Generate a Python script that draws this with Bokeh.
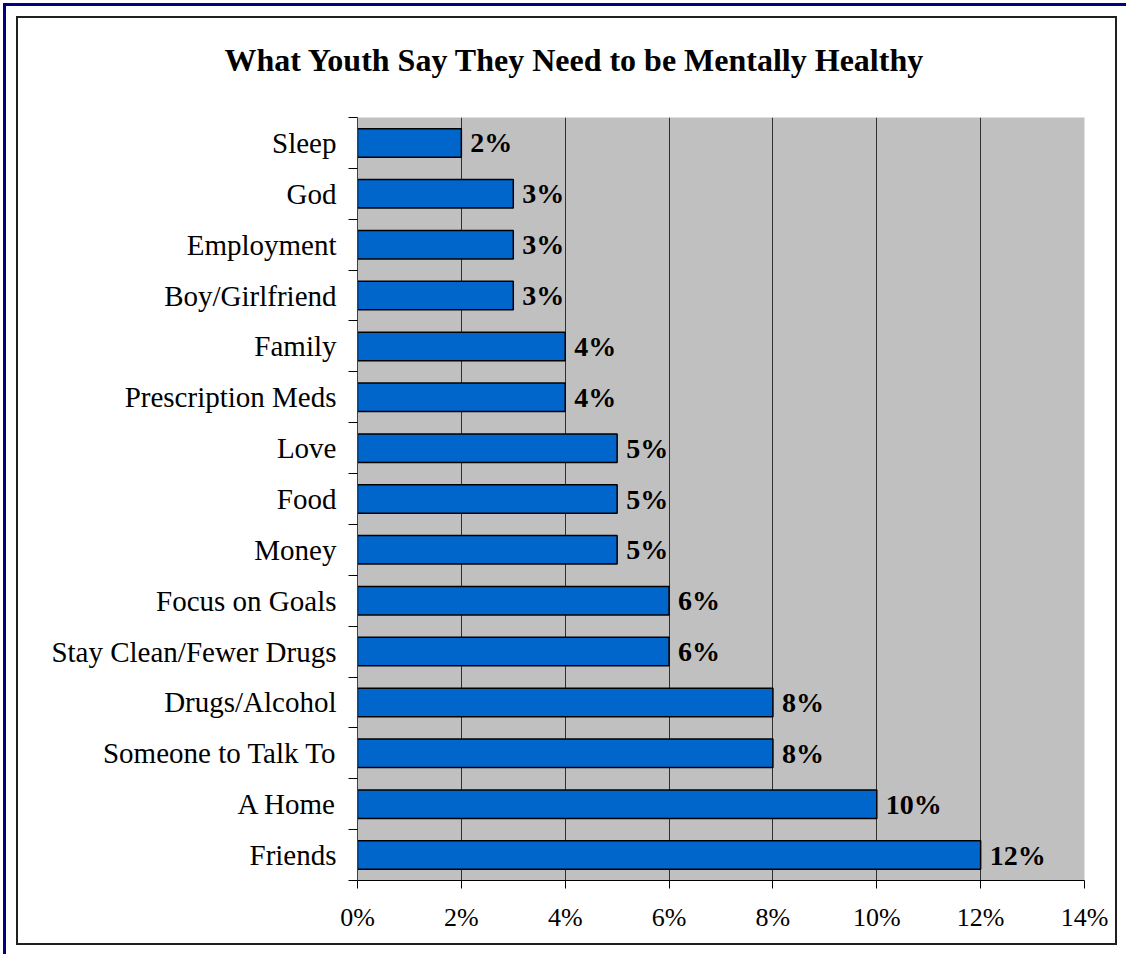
from bokeh.plotting import figure
from bokeh.models import Range1d, FixedTicker, ColumnDataSource, LinearAxis
from bokeh.embed import file_html
from bokeh.resources import INLINE
from bokeh.core.properties import value

# ---- data (bottom to top) ----
categories = ["Friends", "A Home", "Someone to Talk To", "Drugs/Alcohol",
              "Stay Clean/Fewer Drugs", "Focus on Goals", "Money", "Food", "Love",
              "Prescription Meds", "Family", "Boy/Girlfriend", "Employment", "God", "Sleep"]
values = [12, 10, 8, 8, 6, 6, 5, 5, 5, 4, 4, 3, 3, 3, 2]
x_ticks = [0, 2, 4, 6, 8, 10, 12, 14]
x_tick_labels = ["0%", "2%", "4%", "6%", "8%", "10%", "12%", "14%"]
title_text = "What Youth Say They Need to be Mentally Healthy"

SERIF = "Liberation Serif"
W, H = 1101, 929
L, R, T, B = 339, 35, 99, 67
n = len(categories)
XMAX = 14

p = figure(width=W, height=H, x_range=Range1d(0, XMAX), y_range=Range1d(-0.5, n - 0.5),
           output_backend="svg", toolbar_location=None,
           min_border_left=L, min_border_right=R, min_border_top=T, min_border_bottom=B,
           background_fill_color="#C0C0C0", border_fill_color="white",
           outline_line_color=None)
p.styles = {"margin-left": "16px", "margin-top": "16px",
            "border": "2px solid #202020",
            "outline": "3px solid #000080", "outline-offset": "10px"}

ys = list(range(n))
src = ColumnDataSource(dict(y=ys, v=values, lab=[f"{v}%" for v in values]))

p.hbar(y="y", left=0, right="v", height=0.56, source=src,
       fill_color="#0066CC", line_color="black", line_width=1.5)
p.text(x="v", y="y", text="lab", source=src, x_offset=9,
       text_align="left", text_baseline="middle",
       text_font=value(SERIF), text_font_style="bold", text_font_size="28px",
       text_color="black")

# bottom x axis
xa = p.below[0]
xa.ticker = FixedTicker(ticks=x_ticks)
xa.major_label_overrides = {t: s for t, s in zip(x_ticks, x_tick_labels)}
xa.major_label_text_font = SERIF
xa.major_label_text_font_size = "26px"
xa.major_label_text_color = "black"
xa.major_tick_out = 8
xa.major_tick_in = 0
xa.minor_tick_out = 0
xa.minor_tick_in = 0
xa.major_label_standoff = 14
xa.axis_line_color = "black"
xa.major_tick_line_color = "black"

# left y axis
ya = p.left[0]
ya.ticker = FixedTicker(ticks=ys, minor_ticks=[i - 0.5 for i in range(n + 1)])
ya.major_label_overrides = {i: c for i, c in enumerate(categories)}
ya.major_label_text_font = SERIF
ya.major_label_text_font_size = "29px"
ya.major_label_text_color = "black"
ya.major_tick_out = 0
ya.major_tick_in = 0
ya.minor_tick_out = 9
ya.minor_tick_in = 0
ya.minor_tick_line_color = "black"
ya.axis_line_color = "#404040"
ya.major_label_standoff = 12

# invisible spacer axis between title and plot area
spacer = LinearAxis(ticker=FixedTicker(ticks=[7]), axis_line_color=None,
                    major_tick_out=35, major_tick_in=0, minor_tick_out=0, minor_tick_in=0,
                    major_tick_line_color=None, minor_tick_line_color=None,
                    major_label_standoff=0, major_label_overrides={7: ""},
                    major_label_text_font_size="1px", major_label_text_alpha=0)
p.add_layout(spacer, "above")

# title
p.title.text = title_text
p.title.align = "left"
p.title.offset = -133
p.title.text_font = SERIF
p.title.text_font_style = "bold"
p.title.text_font_size = "32px"
p.title.text_color = "black"

p.ygrid.visible = False
p.xgrid.ticker = FixedTicker(ticks=x_ticks[1:-1])
p.xgrid.grid_line_color = "#303030"
p.xgrid.grid_line_width = 1

open("out.html", "w").write(file_html(p, INLINE))
